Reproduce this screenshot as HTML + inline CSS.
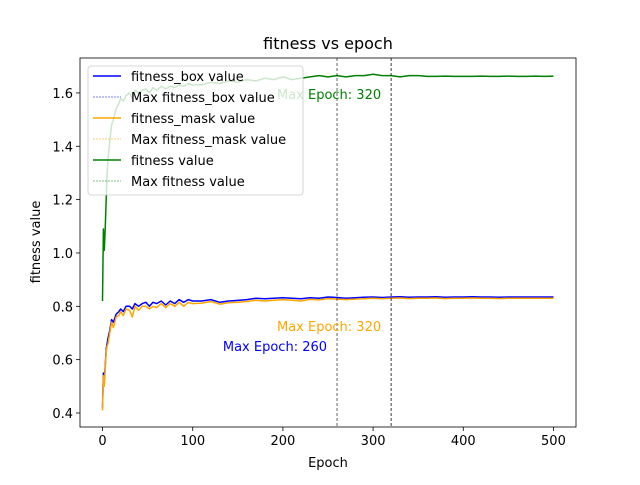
<!DOCTYPE html>
<html><head><meta charset="utf-8"><style>
body{margin:0;background:#fff}
svg text{font-family:"DejaVu Sans","Liberation Sans",sans-serif}
</style></head><body>
<svg id="chart" width="640" height="480" xmlns="http://www.w3.org/2000/svg">
<rect width="640" height="480" fill="#fff"/>
<g id="marks"></g>
<g id="axes"></g>
</svg>
<script>
const epochs=[0,1,2,3,4,5,6,8,10,12,15,18,20,23,26,30,33,36,40,44,48,52,56,60,65,70,75,80,85,90,95,100,110,120,130,140,150,160,170,180,190,200,210,220,230,240,250,260,270,280,290,300,310,320,330,340,350,360,370,380,390,400,410,420,430,440,450,460,470,480,490,500];
const boxVals=[0.42,0.55,0.52,0.58,0.64,0.66,0.68,0.71,0.75,0.74,0.77,0.78,0.79,0.78,0.80,0.80,0.79,0.81,0.80,0.81,0.815,0.80,0.815,0.81,0.82,0.805,0.82,0.81,0.825,0.815,0.825,0.82,
0.82,0.825,0.815,0.82,0.822,0.825,0.83,0.828,0.83,0.832,0.83,0.828,0.832,0.83,0.835,0.833,0.83,0.832,0.834,0.835,0.833,0.835,0.836,0.834,0.835,0.835,0.836,0.834,0.835,0.835,0.836,0.835,0.835,0.834,0.835,0.835,0.835,0.835,0.835,0.835];
const maskVals=[0.41,0.54,0.50,0.57,0.63,0.65,0.66,0.70,0.74,0.72,0.76,0.765,0.78,0.765,0.79,0.785,0.76,0.80,0.785,0.80,0.80,0.79,0.80,0.795,0.81,0.795,0.81,0.80,0.815,0.80,0.815,0.81,
0.812,0.818,0.808,0.814,0.815,0.818,0.823,0.82,0.823,0.825,0.823,0.82,0.826,0.824,0.829,0.827,0.825,0.827,0.828,0.83,0.828,0.83,0.831,0.829,0.83,0.83,0.831,0.829,0.83,0.83,0.831,0.83,0.83,0.829,0.83,0.83,0.83,0.83,0.83,0.83];
const fitVals=[0.82,1.09,1.01,1.10,1.20,1.30,1.35,1.42,1.48,1.50,1.54,1.56,1.58,1.57,1.59,1.60,1.58,1.61,1.60,1.61,1.615,1.60,1.62,1.61,1.625,1.615,1.625,1.62,1.63,1.625,1.635,1.63,
1.63,1.64,1.635,1.645,1.64,1.65,1.645,1.655,1.65,1.66,1.65,1.655,1.66,1.665,1.66,1.665,1.66,1.665,1.665,1.67,1.665,1.665,1.66,1.665,1.665,1.662,1.662,1.663,1.662,1.662,1.662,1.663,1.662,1.662,1.663,1.662,1.662,1.663,1.662,1.663];
const maxEpochs=[260,320,320];
const maxColors=["blue","orange","green"];
const xTicks=[0,100,200,300,400,500];
const yTicks=[0.4,0.6,0.8,1.0,1.2,1.4,1.6];
const L=80,R=576,T=58,B=427,X0=-25,X1=525,Y0=0.3475,Y1=1.731;
const sx=v=>L+(v-X0)/(X1-X0)*(R-L);
const sy=v=>B-(v-Y0)/(Y1-Y0)*(B-T);
const NS="http://www.w3.org/2000/svg";
const marks=document.getElementById('marks'),axes=document.getElementById('axes');
function mk(tag,attrs,parent,txt){const e=document.createElementNS(NS,tag);for(const k in attrs)e.setAttribute(k,attrs[k]);if(txt!==undefined)e.textContent=txt;parent.appendChild(e);return e;}
function line(vals,color,name){const d=vals.map((v,i)=>(i?'L':'M')+sx(epochs[i]).toFixed(1)+','+sy(v).toFixed(1)).join('');
const p=mk('path',{d:d,fill:'none',stroke:color,'stroke-width':1.5,'stroke-linejoin':'round'},marks);

}
line(boxVals,'blue','fitness-box-line');
line(maskVals,'orange','fitness-mask-line');
line(fitVals,'green','fitness-line');
maxEpochs.forEach((m,i)=>{const l=mk('line',{x1:sx(m),x2:sx(m),y1:T,y2:B,stroke:'#000','stroke-width':0.6,'stroke-dasharray':'3,2'},marks);

});
const annY=[346,326,94];
maxEpochs.forEach((m,i)=>{const t=mk('text',{x:sx(m)-10,y:annY[i]+5,'font-size':13,fill:maxColors[i],'text-anchor':'end'},marks,'Max Epoch: '+m);

});
// axes frame
const fr=mk('rect',{x:L,y:T,width:R-L,height:B-T,fill:'none',stroke:'#000','stroke-width':0.8},axes);


xTicks.forEach(v=>{mk('line',{x1:sx(v),x2:sx(v),y1:B,y2:B+4,stroke:'#000','stroke-width':0.8},axes);
const t=mk('text',{x:sx(v),y:B+18,'font-size':13,'text-anchor':'middle'},axes,v);

});
yTicks.forEach(v=>{mk('line',{x1:L-4,x2:L,y1:sy(v),y2:sy(v),stroke:'#000','stroke-width':0.8},axes);
const t=mk('text',{x:L-7,y:sy(v)+5,'font-size':13,'text-anchor':'end'},axes,v.toFixed(1));

});
// legend
const leg=mk('g',{},axes);


mk('rect',{x:88,y:66,width:215,height:129,rx:3,fill:'rgba(255,255,255,0.8)',stroke:'#ccc','stroke-width':0.8},leg);
const legLabels=['fitness_box value','Max fitness_box value','fitness_mask value','Max fitness_mask value','fitness value','Max fitness value'];
const legColors=['blue','blue','orange','orange','green','green'];
legLabels.forEach((s,i)=>{const y=76+i*21;const dash=i%2==1;
mk('line',{x1:93,x2:121,y1:y,y2:y,stroke:legColors[i],'stroke-width':dash?0.6:1.5,'stroke-dasharray':dash?'2,1':'none'},leg);
const t=mk('text',{x:131,y:y+5,'font-size':13},leg,s);

});
const tt=mk('text',{x:328,y:49,'font-size':16,'text-anchor':'middle'},axes,'fitness vs epoch');


const xt=mk('text',{x:328,y:467,'font-size':13,'text-anchor':'middle'},axes,'Epoch');


const yt=mk('text',{x:0,y:0,'font-size':13,'text-anchor':'middle',transform:'translate(40,242) rotate(-90)'},axes,'fitness value');


</script>
</body></html>
